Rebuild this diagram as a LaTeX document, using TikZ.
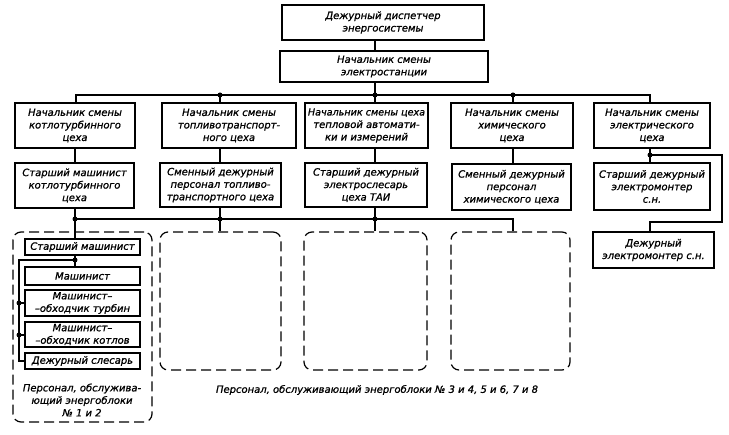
\documentclass[tikz,border=0pt]{standalone}
\usepackage{fontspec}
\setmainfont{DejaVu Sans}
\newfontfamily\gost[FakeBold=1]{DejaVu Sans}
\begin{document}
\begin{tikzpicture}[x=1pt,y=-1pt,
  every node/.style={font=\gost\itshape\fontsize{10}{12.5}\selectfont},
  box/.style={draw, line width=1.1pt, inner sep=0pt, align=center},
  dbox/.style={draw, line width=1.2pt, dash pattern=on 10pt off 5pt, rounded corners=8pt, inner sep=0pt},
  conn/.style={line width=1.1pt},
  dot/.style={fill, circle, inner sep=0pt, minimum size=5pt},
  lbl/.style={align=center, inner sep=0pt}]
\useasboundingbox (0,0) rectangle (729,435);
\newcommand\bx[6]{\node[box,minimum width={#4-#2},minimum height={#5-#3}] (#1) at ({(#2+#4)/2},{(#3+#5)/2}) {#6};}
\newcommand\dbx[5]{\node[dbox,minimum width={#4-#2},minimum height={#5-#3}] (#1) at ({(#2+#4)/2},{(#3+#5)/2}) {};}
% boxes
\bx{top}{282}{5}{484}{40}{Дежурный диспетчер\\энергосистемы}
\bx{chief}{280}{51}{488}{82}{Начальник смены\\электростанции}
\bx{b1}{15}{103}{135}{148}{Начальник смены\\котлотурбинного\\цеха}
\bx{b2}{162}{103}{296}{148}{Начальник смены\\топливотранспорт-\\ного цеха}
\bx{b3}{305}{103}{428}{148}{{\fontsize{9.6}{12.5}\selectfont Начальник смены цеха}\\тепловой автомати-\\ки и измерений}
\bx{b4}{451}{103}{573}{148}{Начальник смены\\химического\\цеха}
\bx{b5}{594}{103}{710}{148}{Начальник смены\\электрического\\цеха}
\bx{c1}{15}{163}{134}{208}{Старший машинист\\котлотурбинного\\цеха}
\bx{c2}{160}{163}{281}{207}{Сменный дежурный\\персонал топливо-\\транспортного цеха}
\bx{c3}{305}{163}{427}{207}{Старший дежурный\\электрослесарь\\цеха ТАИ}
\bx{c4}{452}{164}{571}{210}{Сменный дежурный\\персонал\\химического цеха}
\bx{c5}{594}{163}{710}{210}{Старший дежурный\\электромонтер\\с.н.}
\bx{d5}{593}{232}{714}{268}{Дежурный\\электромонтер с.н.}
\dbx{D1}{13}{232}{152}{422}
\dbx{D2}{160}{232}{281}{370}
\dbx{D3}{304}{232}{427}{370}
\dbx{D4}{451}{232}{570}{370}
\bx{s1}{25}{239}{140}{255}{Старший машинист}
\bx{s2}{25}{267}{140}{285}{Машинист}
\bx{s3}{25}{290}{140}{316}{Машинист–\\–обходчик турбин}
\bx{s4}{25}{322}{140}{347}{Машинист–\\–обходчик котлов}
\bx{s5}{25}{353}{140}{369}{Дежурный слесарь}
\node[lbl] (lab1) at (82,400) {Персонал, обслужива-\\ющий энергоблоки\\№ 1 и 2};
\node[lbl] (lab2) at (377,390) {Персонал, обслуживающий энергоблоки № 3 и 4, 5 и 6, 7 и 8};
% junction coordinates
\coordinate (jL) at (76,95);
\coordinate (j2) at (220,95);
\coordinate (jA) at (375,95);
\coordinate (j4) at (513,95);
\coordinate (jR) at (650,95);
\coordinate (k1) at (75,219);
\coordinate (k2) at (220,219);
\coordinate (k3) at (375,219);
\coordinate (k4) at (513,219);
\coordinate (k5) at (650,155);
\coordinate (r1) at (722,155);
\coordinate (r2) at (722,222);
\coordinate (r3) at (650,222);
\coordinate (m1) at (75,260);
\coordinate (ml) at (19,260);
\coordinate (m3) at (19,303);
\coordinate (m4) at (19,335);
\coordinate (m5) at (19,361);
% connectors
\draw[conn] (top.south -| jA) -- (chief.north -| jA);
\draw[conn] (chief.south -| jA) -- (jA);
\draw[conn] (b1.north -| jL) -- (jL) -- (jR) -- (b5.north -| jR);
\draw[conn] (j2) -- (b2.north -| j2);
\draw[conn] (jA) -- (b3.north -| jA);
\draw[conn] (j4) -- (b4.north -| j4);
\draw[conn] (b1.south -| k1) -- (c1.north -| k1);
\draw[conn] (b2.south -| k2) -- (c2.north -| k2);
\draw[conn] (b3.south -| k3) -- (c3.north -| k3);
\draw[conn] (b4.south -| k4) -- (c4.north -| k4);
\draw[conn] (b5.south -| k5) -- (c5.north -| k5);
\draw[conn] (k5) -- (r1) -- (r2) -- (r3) -- (d5.north -| r3);
\draw[conn] (c1.south -| k1) -- (s1.north -| k1);
\draw[conn] (k1) -- (k4) -- (D4.north -| k4);
\draw[conn] (c2.south -| k2) -- (D2.north -| k2);
\draw[conn] (c3.south -| k3) -- (D3.north -| k3);
\draw[conn] (s1.south -| m1) -- (s2.north -| m1);
\draw[conn] (m1) -- (ml) -- (m5) -- (s5.west |- m5);
\draw[conn] (m3) -- (s3.west |- m3);
\draw[conn] (m4) -- (s4.west |- m4);
\foreach \p in {jA,j2,j4,k1,k2,k3,k5,m1,m3,m4} \node[dot] at (\p) {};
\end{tikzpicture}
\end{document}
